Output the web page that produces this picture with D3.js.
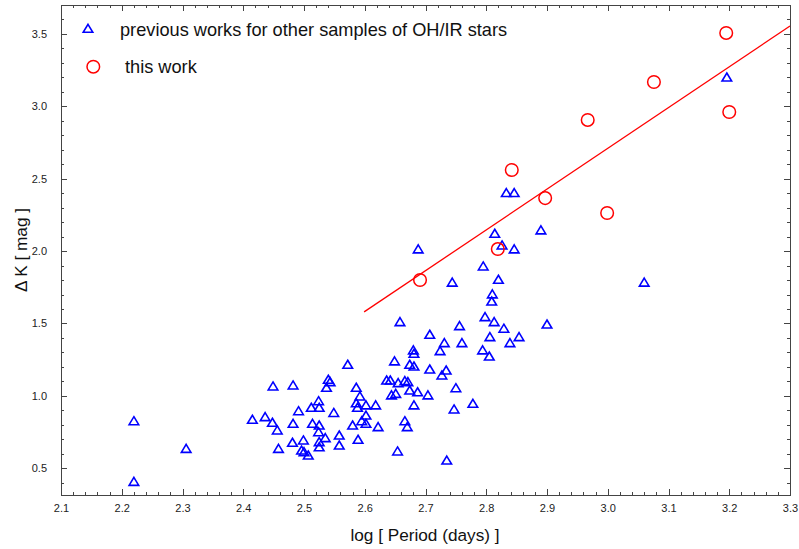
<!DOCTYPE html>
<meta charset="utf-8">
<style>
body { margin: 0; background: #fff; }
svg { font-family: "Liberation Sans", Arial, sans-serif; }
.axis path, .axis line { fill: none; stroke: #444; shape-rendering: crispEdges; }
.axis text { fill: #222; font-size: 11px; }
.tri { fill: none; stroke: #0000ff; stroke-width: 1.6px; }
.circ { fill: none; stroke: #ff0000; stroke-width: 1.5px; }
.fit { fill: none; stroke: #ff0000; stroke-width: 1.3px; }
.lbl { fill: #111; }
</style>
<body>
<script src="https://cdn.jsdelivr.net/npm/d3@7"></script>
<script>

// previous works (triangles): log period, delta K
var prevLogP = [2.220, 2.220, 2.306, 2.415, 2.436, 2.448, 2.456, 2.458, 2.449, 2.482,
  2.482, 2.481, 2.491, 2.499, 2.496, 2.500, 2.507, 2.512, 2.514, 2.524,
  2.525, 2.525, 2.524, 2.525, 2.525, 2.535, 2.540, 2.543, 2.537, 2.549,
  2.558, 2.558, 2.572, 2.580, 2.586, 2.586, 2.588, 2.592, 2.589, 2.595,
  2.602, 2.602, 2.602, 2.618, 2.622, 2.636, 2.642, 2.644, 2.649, 2.651,
  2.654, 2.658, 2.655, 2.666, 2.671, 2.707, 2.731, 2.724, 2.680, 2.681,
  2.674, 2.681, 2.707, 2.734, 2.727, 2.674, 2.687, 2.704, 2.681, 2.666,
  2.670, 2.735, 2.798, 2.813, 2.756, 2.829, 2.900, 2.760, 2.806, 2.854,
  2.839, 2.794, 2.805, 2.750, 2.778, 2.747, 2.744, 2.820, 3.060, 2.810,
  2.809, 3.196, 2.833, 2.846, 2.890, 2.688, 2.814, 2.826, 2.846, 2.795];
var prevDK = [0.827, 0.408, 0.636, 0.837, 0.855, 0.816, 0.763, 0.636, 1.067, 1.074,
  0.809, 0.678, 0.896, 0.694, 0.624, 0.613, 0.590, 0.920, 0.809, 0.965,
  0.920, 0.797, 0.751, 0.682, 0.647, 0.710, 1.113, 1.097, 1.058, 0.884,
  0.728, 0.659, 1.217, 0.797, 1.058, 0.951, 0.920, 0.998, 0.699, 0.827,
  0.936, 0.866, 0.809, 0.936, 0.786, 1.108, 1.108, 1.005, 1.240, 1.016,
  0.618, 1.511, 1.090, 1.104, 1.097, 1.424, 1.366, 1.311, 1.316, 1.293,
  1.217, 1.205, 1.184, 1.177, 1.143, 1.039, 1.027, 1.005, 0.936, 0.827,
  0.786, 0.555, 1.546, 1.511, 1.484, 1.466, 1.495, 1.366, 1.408, 1.408,
  1.366, 1.316, 1.274, 1.055, 0.947, 0.908, 1.784, 1.804, 1.784, 1.703,
  1.654, 3.201, 2.403, 2.403, 2.145, 2.014, 2.122, 2.041, 2.014, 1.896];

// this work (circles)
var thisLogP = [3.195, 3.076, 2.967, 3.200, 2.842, 2.897, 2.999, 2.819, 2.691];
var thisDK   = [3.507, 3.168, 2.906, 2.961, 2.560, 2.366, 2.263, 2.014, 1.800];

// fitted line end points
var fitLogP = [2.599, 3.3];
var fitDK   = [1.580, 3.555];

var xMajor = d3.range(2.1, 3.3001, 0.1);
var yMajor = [0.5, 1.0, 1.5, 2.0, 2.5, 3.0, 3.5];

var width = 799, height = 549;

var x = d3.scaleLinear().domain([2.1, 3.3]).range([61, 790]);
var y = d3.scaleLinear().domain([0.315, 3.7]).range([495, 5]);

var svg = d3.select("body").append("svg")
    .attr("width", width)
    .attr("height", height);

var xMinor = d3.range(2.1, 3.3001, 0.02);
var yMinor = d3.range(0.4, 3.7001, 0.1);

// minor ticks on all four sides
svg.append("g").attr("class", "axis").attr("transform", "translate(0,495)")
    .call(d3.axisBottom(x).tickValues(xMinor).tickSize(-3).tickFormat(""));
svg.append("g").attr("class", "axis").attr("transform", "translate(0,5)")
    .call(d3.axisTop(x).tickValues(xMinor).tickSize(-3).tickFormat(""));
svg.append("g").attr("class", "axis").attr("transform", "translate(61,0)")
    .call(d3.axisLeft(y).tickValues(yMinor).tickSize(-3).tickFormat(""));
svg.append("g").attr("class", "axis").attr("transform", "translate(790,0)")
    .call(d3.axisRight(y).tickValues(yMinor).tickSize(-3).tickFormat(""));

// major ticks
svg.append("g").attr("class", "axis").attr("transform", "translate(0,495)")
    .call(d3.axisBottom(x).tickValues(xMajor).tickSize(-6).tickPadding(9).tickFormat(d3.format(".1f")));
svg.append("g").attr("class", "axis").attr("transform", "translate(0,5)")
    .call(d3.axisTop(x).tickValues(xMajor).tickSize(-6).tickFormat(""));
svg.append("g").attr("class", "axis").attr("transform", "translate(61,0)")
    .call(d3.axisLeft(y).tickValues(yMajor).tickSize(-6).tickPadding(14).tickFormat(d3.format(".1f")));
svg.append("g").attr("class", "axis").attr("transform", "translate(790,0)")
    .call(d3.axisRight(y).tickValues(yMajor).tickSize(-6).tickFormat(""));

// frame
svg.append("rect")
    .attr("x", 61).attr("y", 5)
    .attr("width", 729).attr("height", 490)
    .attr("fill", "none").attr("stroke", "#444")
    .style("shape-rendering", "crispEdges");

var triPath = "M0,-4.2L4.8,3.8L-4.8,3.8Z";

svg.append("path")
    .attr("class", "fit")
    .attr("d", d3.line()([[x(fitLogP[0]), y(fitDK[0])], [x(fitLogP[1]), y(fitDK[1])]]));

svg.selectAll(".tri.pt")
    .data(d3.range(prevLogP.length))
  .enter().append("path")
    .attr("class", "tri pt")
    .attr("d", triPath)
    .attr("transform", function(i) { return "translate(" + x(prevLogP[i]) + "," + y(prevDK[i]) + ")"; });

svg.selectAll(".circ.pt")
    .data(d3.range(thisLogP.length))
  .enter().append("circle")
    .attr("class", "circ pt")
    .attr("r", 6.3)
    .attr("cx", function(i) { return x(thisLogP[i]); })
    .attr("cy", function(i) { return y(thisDK[i]); });

// legend
svg.append("path").attr("class", "tri").attr("d", triPath)
    .attr("transform", "translate(88,28.5)");
svg.append("text").attr("class", "lbl")
    .attr("x", 120).attr("y", 36)
    .style("font-size", "18.2px")
    .text("previous works for other samples of OH/IR stars");
svg.append("circle").attr("class", "circ").attr("r", 6.3)
    .attr("cx", 93.3).attr("cy", 66.7);
svg.append("text").attr("class", "lbl")
    .attr("x", 125).attr("y", 73)
    .style("font-size", "18.2px")
    .text("this work");

// axis titles
svg.append("text").attr("class", "lbl")
    .attr("x", 425).attr("y", 541)
    .attr("text-anchor", "middle")
    .style("font-size", "17.2px")
    .text("log [ Period (days) ]");
svg.append("text").attr("class", "lbl")
    .attr("transform", "translate(27,250) rotate(-90)")
    .attr("text-anchor", "middle")
    .style("font-size", "17.2px")
    .text("\u0394 K [ mag ]");

</script>
